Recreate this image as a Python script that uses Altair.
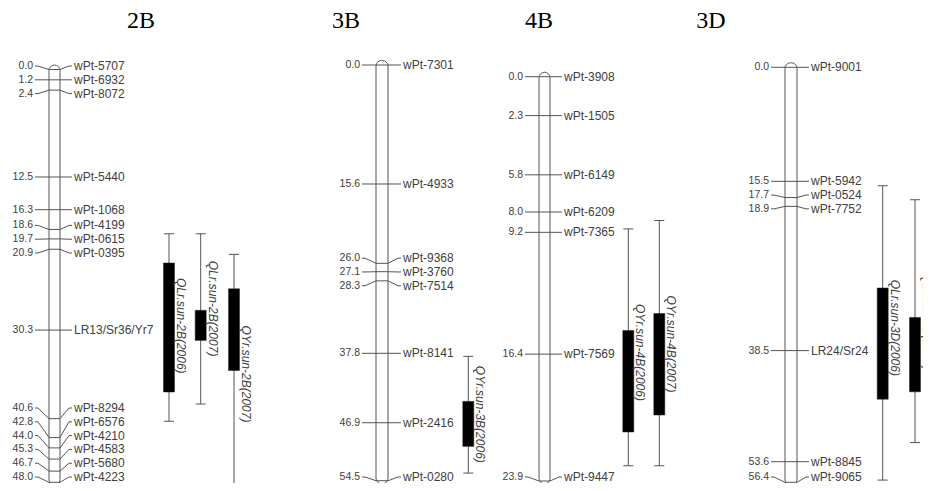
import altair as alt
import pandas as pd

# ---------------- data ----------------
chr_names = ["2B", "3B", "4B", "3D"]

pos_2B = [0.0, 1.2, 2.4, 12.5, 16.3, 18.6, 19.7, 20.9, 30.3, 40.6, 42.8, 44.0, 45.3, 46.7, 48.0]
mk_2B = ["wPt-5707", "wPt-6932", "wPt-8072", "wPt-5440", "wPt-1068", "wPt-4199", "wPt-0615",
         "wPt-0395", "LR13/Sr36/Yr7", "wPt-8294", "wPt-6576", "wPt-4210", "wPt-4583",
         "wPt-5680", "wPt-4223"]

pos_3B = [0.0, 15.6, 26.0, 27.1, 28.3, 37.8, 46.9, 54.5]
mk_3B = ["wPt-7301", "wPt-4933", "wPt-9368", "wPt-3760", "wPt-7514", "wPt-8141", "wPt-2416", "wPt-0280"]

pos_4B = [0.0, 2.3, 5.8, 8.0, 9.2, 16.4, 23.9]
mk_4B = ["wPt-3908", "wPt-1505", "wPt-6149", "wPt-6209", "wPt-7365", "wPt-7569", "wPt-9447"]

pos_3D = [0.0, 15.5, 17.7, 18.9, 38.5, 53.6, 56.4]
mk_3D = ["wPt-9001", "wPt-5942", "wPt-0524", "wPt-7752", "LR24/Sr24", "wPt-8845", "wPt-9065"]

qtl_name = ["QLr.sun-2B(2006)", "QLr.sun-2B(2007)", "QYr.sun-2B(2007)", "QYr.sun-3B(2006)",
            "QYr.sun-4B(2006)", "QYr.sun-4B(2007)", "QLr.sun-3D(2006)", "QLr.sun-3D(2007)"]
qtl_chr = ["2B", "2B", "2B", "3B", "4B", "4B", "3D", "3D"]
qtl_ci_lo = [19.1, 19.1, 21.5, 38.2, 9.0, 8.5, 16.1, 18.0]
qtl_ci_hi = [40.9, 38.9, 48.2, 53.5, 23.0, 23.0, 56.1, 51.0]
qtl_pk_lo = [22.5, 28.0, 25.5, 44.1, 15.0, 14.0, 30.0, 34.0]
qtl_pk_hi = [37.5, 31.5, 35.0, 50.0, 21.0, 20.0, 45.1, 44.1]
qtl_lab_mid = [29.8, 27.8, 35.4, 45.8, 16.3, 15.8, 35.4, 34.6]

POS = {"2B": pos_2B, "3B": pos_3B, "4B": pos_4B, "3D": pos_3D}
MK = {"2B": mk_2B, "3B": mk_3B, "4B": mk_4B, "3D": mk_3D}

# ---------------- layout (page pixel coordinates) ----------------
LAYOUT = {
    "2B": dict(x0=8, x1=300, top=69.5, bot=482.3, cl=49, cr=60, ne=33, ns=74, tx=141, q=[169, 200.7, 234]),
    "3B": dict(x0=300, x1=490, top=65.0, bot=480.7, cl=376, cr=388, ne=360, ns=403, tx=346, q=[468.3]),
    "4B": dict(x0=490, x1=680, top=76.7, bot=481.0, cl=539, cr=550, ne=523, ns=564, tx=539, q=[628.3, 659.3]),
    "3D": dict(x0=680, x1=923, top=67.3, bot=482.3, cl=785, cr=797, ne=769, ns=811, tx=711, q=[882.7, 915]),
}
H = 475
GAP = 13.8
LAB_MAX = 477
LINE = "#555555"
TXT = "#404040"
FONT = "Liberation Sans"


def spread(px, gap, maxp):
    blocks = []
    for p in px:
        blocks.append([[p], p])
        while len(blocks) > 1 and blocks[-2][1] + gap * len(blocks[-2][0]) > blocks[-1][1]:
            b = blocks.pop()
            a = blocks.pop()
            vals = a[0] + b[0]
            m = sum(vals) / len(vals)
            blocks.append([vals, m - gap * (len(vals) - 1) / 2])
    out = []
    for vals, top in blocks:
        out += [top + gap * k for k in range(len(vals))]
    out[-1] = min(out[-1], maxp)
    for i in range(len(out) - 2, -1, -1):
        out[i] = min(out[i], out[i + 1] - gap)
    return out


def panel(c):
    L = LAYOUT[c]
    pos = POS[c]
    names = MK[c]
    length = pos[-1]
    w = L["x1"] - L["x0"]
    ppc = (L["bot"] - L["top"]) / length
    xs = alt.Scale(domain=[L["x0"], L["x1"]], range=[0, w], nice=False, zero=False)
    ys = alt.Scale(domain=[0, length], range=[L["top"] - 8, L["bot"] - 8], nice=False, zero=False)

    px = [L["top"] + p * ppc for p in pos]
    lab_px = spread(px, GAP, LAB_MAX)
    lab = [(lp - L["top"]) / ppc for lp in lab_px]

    mk = pd.DataFrame({"pos": pos, "lab": lab, "name": names,
                       "num": [f"{p:.1f}" for p in pos]})
    mk["xn"] = L["ne"]
    mk["xm"] = L["ns"]

    rows = []
    for i, (p, lp) in enumerate(zip(pos, lab)):
        pts = [(L["ne"] + 2, lp), (L["ne"] + 5, lp), (L["cl"], p), (L["cr"], p),
               (L["ns"] - 5, lp), (L["ns"] - 2, lp)]
        for k, (xx, yy) in enumerate(pts):
            rows.append({"id": i, "k": k, "x": xx, "y": yy})
    conn = pd.DataFrame(rows)

    chrom = pd.DataFrame({"xa": [L["cl"]], "xb": [L["cr"]], "ya": [0.0], "yb": [length]})

    idx = [i for i, cc in enumerate(qtl_chr) if cc == c]
    q = pd.DataFrame({
        "name": [qtl_name[i] for i in idx],
        "lo": [qtl_ci_lo[i] for i in idx],
        "hi": [qtl_ci_hi[i] for i in idx],
        "plo": [qtl_pk_lo[i] for i in idx],
        "phi": [qtl_pk_hi[i] for i in idx],
        "mid": [qtl_lab_mid[i] for i in idx],
        "wx": L["q"],
    })
    q["ba"] = q["wx"] - 5.5
    q["bb"] = q["wx"] + 5.5
    q["ca"] = q["wx"] - 5
    q["cb"] = q["wx"] + 5
    q["tx"] = q["wx"] + 12

    X = lambda f: alt.X(f, type="quantitative", scale=xs, axis=None)
    Y = lambda f: alt.Y(f, type="quantitative", scale=ys, axis=None)

    base_chrom = alt.Chart(chrom).mark_rect(
        fill="white", stroke=LINE, strokeWidth=1, cornerRadius=5.5, yOffset=-4.5, y2Offset=3,
        clip=True
    ).encode(x=X("xa"), x2="xb", y=Y("ya"), y2="yb")

    lines = alt.Chart(conn).mark_line(color=LINE, strokeWidth=1, clip=True).encode(
        x=X("x"), y=Y("y"), detail="id:N", order="k:Q")

    nums = alt.Chart(mk).mark_text(align="right", baseline="middle", font=FONT, fontSize=10.5,
                                   color=TXT, clip=True).encode(x=X("xn"), y=Y("lab"), text="num:N")
    mnames = alt.Chart(mk).mark_text(align="left", baseline="middle", font=FONT, fontSize=12,
                                     color=TXT, clip=True).encode(x=X("xm"), y=Y("lab"), text="name:N")

    whisk = alt.Chart(q).mark_rule(color=LINE, strokeWidth=1, clip=True).encode(x=X("wx"), y=Y("lo"), y2="hi")
    cap1 = alt.Chart(q).mark_rule(color=LINE, strokeWidth=1, clip=True).encode(x=X("ca"), x2="cb", y=Y("lo"))
    cap2 = alt.Chart(q).mark_rule(color=LINE, strokeWidth=1, clip=True).encode(x=X("ca"), x2="cb", y=Y("hi"))
    bar = alt.Chart(q).mark_rect(fill="black", stroke="#222222", strokeWidth=0.5, clip=True).encode(
        x=X("ba"), x2="bb", y=Y("plo"), y2="phi")
    qlab = alt.Chart(q).mark_text(angle=90, align="center", baseline="middle", font=FONT,
                                  fontSize=12, fontStyle="italic", color=TXT, clip=True).encode(
        x=X("tx"), y=Y("mid"), text="name:N")

    title = alt.Chart(pd.DataFrame({"t": [c], "tx": [L["tx"]]})).mark_text(
        align="center", baseline="alphabetic", font="Liberation Serif", fontSize=24, color="black",
        clip=True
    ).encode(x=X("tx"), y=alt.value(20), text="t:N")

    return alt.layer(base_chrom, lines, nums, mnames, whisk, cap1, cap2, bar, qlab, title).properties(
        width=w, height=H)


chart = alt.hconcat(*[panel(c) for c in chr_names], spacing=0, bounds="flush").resolve_scale(
    x="independent", y="independent"
).properties(padding=0, background="white").configure_view(strokeWidth=0, stroke="transparent")

chart.save("out.html", embed_options={"renderer": "svg", "actions": False})
